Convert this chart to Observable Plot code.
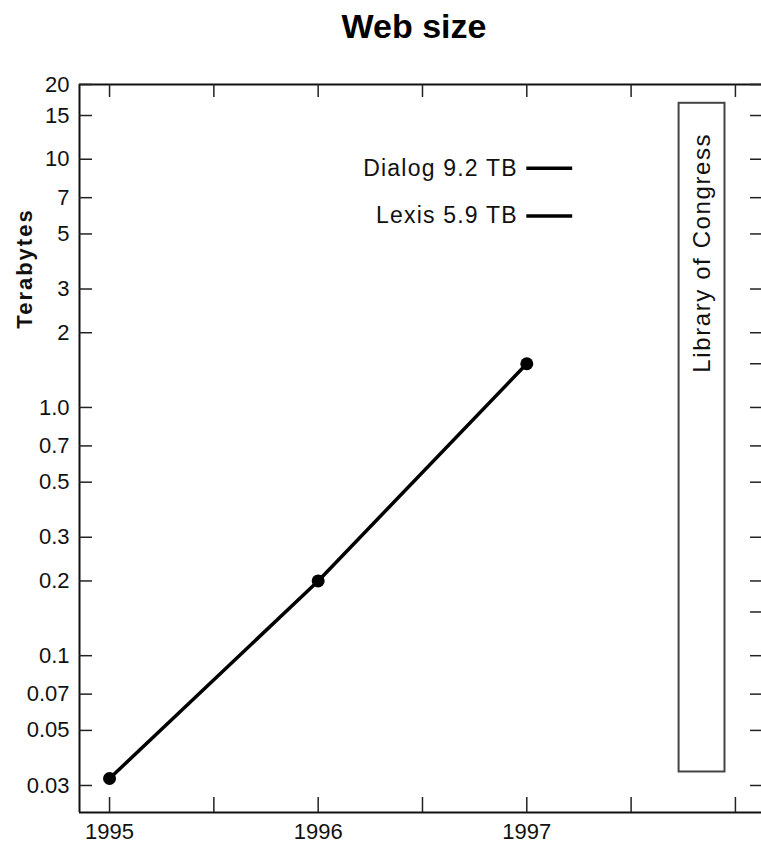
<!DOCTYPE html>
<html><head><meta charset="utf-8">
<script src="https://cdn.jsdelivr.net/npm/d3@7"></script>
<script src="https://cdn.jsdelivr.net/npm/@observablehq/plot@0.6"></script>
<style>
body{margin:0;background:#fff;}
#title{width:761px;height:56px;line-height:56px;font:bold 34px "Liberation Sans",Arial,sans-serif;text-align:center;padding-left:67px;box-sizing:border-box;color:#000;overflow:visible;}
#title span{position:relative;top:7px;}
#chart svg{display:block;}
</style></head><body>
<div id="title"><span>Web size</span></div>
<div id="chart"></div>
<script>
// data
const years = [1995, 1996, 1997];
const webTB = [0.032, 0.2, 1.5];
const yTicks = [20, 15, 10, 7, 5, 3, 2, 1, 0.7, 0.5, 0.3, 0.2, 0.1, 0.07, 0.05, 0.03];
const yTickLabels = ["20", "15", "10", "7", "5", "3", "2", "1.0", "0.7", "0.5", "0.3", "0.2", "0.1", "0.07", "0.05", "0.03"];
const yExtraRightTicks = [1.5, 0.15];
const xTicks = [1995, 1995.5, 1996, 1996.5, 1997, 1997.5, 1998];
const xLabelYears = [1995, 1996, 1997];
const xTickLabels = ["1995", "1996", "1997"];
const refNames = ["Dialog 9.2 TB", "Lexis 5.9 TB"];
const refValues = [9.2, 5.9];
const refYear = 1997;
const refSpan = 0.22;
const locLabel = "Library of Congress";
const locYears = [1997.73, 1997.95];
const locRange = [0.034, 16.8];
const locLabelTB = 4.2;
const xDomain = [1994.856, 1998.125];
const yDomain = [0.02335, 20];

const W = 761, H = 786, mL = 79, mR = 0, mT = 28, mB = 30;
const fw = W - mL - mR, fh = H - mT - mB;
const data = years.map((y, i) => ({year: y, tb: webTB[i]}));
const font = '"Liberation Sans", Arial, sans-serif';

const chart = Plot.plot({
  width: W, height: H, marginLeft: mL, marginRight: mR, marginTop: mT, marginBottom: mB,
  style: {fontFamily: font, background: "#fff", color: "#111", overflow: "visible"},
  x: {domain: xDomain, axis: null},
  y: {type: "log", domain: yDomain, axis: null},
  marks: [
    Plot.ruleX([xDomain[0]], {stroke: "#111", strokeWidth: 2}),
    Plot.ruleY([yDomain[0], yDomain[1]], {stroke: "#111", strokeWidth: 2}),
    Plot.tickY(yTicks, {y: d => d, insetRight: fw - 13, stroke: "#222", strokeWidth: 1.5}),
    Plot.tickY([...yTicks, ...yExtraRightTicks], {y: d => d, insetLeft: fw - 11, stroke: "#222", strokeWidth: 1.5}),
    Plot.tickX(xTicks, {x: d => d, insetTop: fh - 15, stroke: "#222", strokeWidth: 1.5}),
    Plot.tickX(xTicks, {x: d => d, insetBottom: fh - 13, stroke: "#222", strokeWidth: 1.5}),
    Plot.text(yTicks, {x: xDomain[0], y: d => d, text: (d, i) => yTickLabels[i], textAnchor: "end", dx: -10, fontSize: 22, fill: "#111"}),
    Plot.text(xLabelYears, {x: d => d, y: yDomain[0], text: (d, i) => xTickLabels[i], dy: 19, fontSize: 22, fill: "#111"}),
    Plot.text(["Terabytes"], {frameAnchor: "left", textAnchor: "middle", text: d => d, rotate: -90, dx: -55, dy: -180, fontSize: 22, fontWeight: "bold", fill: "#111"}),
    Plot.rect([0], {x1: locYears[0], x2: locYears[1], y1: locRange[0], y2: locRange[1], fill: "none", stroke: "#444", strokeWidth: 2}),
    Plot.text([locLabel], {x: (locYears[0] + locYears[1]) / 2, y: locLabelTB, text: d => d, rotate: -90, fontSize: 24, fill: "#111"}),
    Plot.ruleY(refValues, {y: d => d, x1: refYear, x2: refYear + refSpan, stroke: "#000", strokeWidth: 3.5}),
    Plot.text(refValues, {x: refYear, y: d => d, text: (d, i) => refNames[i], textAnchor: "end", dx: -9, fontSize: 23, fill: "#111"}),
    Plot.line(data, {x: "year", y: "tb", stroke: "#000", strokeWidth: 3.5}),
    Plot.dot(data, {x: "year", y: "tb", r: 6.5, fill: "#000"})
  ]
});
document.getElementById("chart").appendChild(chart);
chart.querySelectorAll("text").forEach(t => {
  const s = t.textContent;
  if (refNames.includes(s)) t.setAttribute("letter-spacing", "1.2");
  else if (s === locLabel) t.setAttribute("letter-spacing", "1.6");
  else if (s === "Terabytes") t.setAttribute("letter-spacing", "2");
});
</script>
</body></html>
